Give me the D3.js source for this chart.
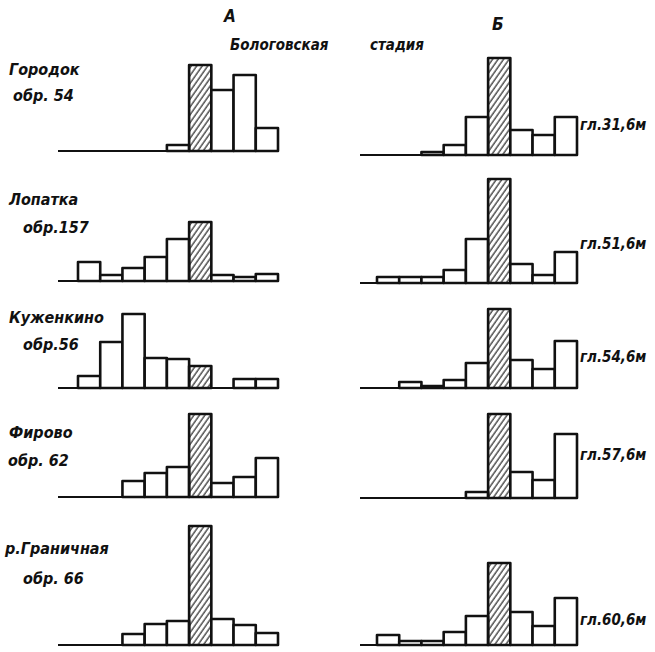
<!DOCTYPE html>
<html>
<head>
<meta charset="utf-8">
<script src="https://cdn.jsdelivr.net/npm/d3@7"></script>
<style>
  body { margin: 0; background: #fff; }
  text { font-family: "DejaVu Sans Condensed", "DejaVu Sans", sans-serif; font-style: italic; font-weight: bold; fill: #111; }
</style>
</head>
<body>
<div id="chart"></div>
<script>
// Bins (9 size classes), index 5 is the hatched one
const bins = [0, 1, 2, 3, 4, 5, 6, 7, 8];
const hatchedBin = 5;

// Column A - surface samples
const namesA = ['Городок', 'Лопатка', 'Куженкино', 'Фирово', 'р.Граничная'];
const samplesA = ['обр. 54', 'обр.157', 'обр.56', 'обр. 62', 'обр. 66'];
const gorodokA = [0, 0, 0, 0, 6, 86, 61, 76, 23];
const lopatkaA = [19, 6, 13, 24, 42, 59, 6, 4, 7];
const kuzhenkinoA = [12, 46, 74, 30, 29, 22, 0, 9, 9];
const firovoA = [0, 0, 16, 24, 30, 83, 14, 20, 39];
const granichnayaA = [0, 0, 11, 21, 24, 119, 26, 20, 12];

// Column Б - borehole depths
const depthsB = ['гл.31,6м', 'гл.51,6м', 'гл.54,6м', 'гл.57,6м', 'гл.60,6м'];
const depth316 = [0, 0, 3, 10, 38, 97, 25, 20, 38];
const depth516 = [6, 6, 6, 13, 44, 104, 19, 8, 31];
const depth546 = [0, 6, 2, 8, 25, 79, 28, 19, 47];
const depth576 = [0, 0, 0, 0, 6, 84, 26, 18, 64];
const depth606 = [10, 4, 4, 13, 29, 82, 33, 19, 47];

const seriesA = [gorodokA, lopatkaA, kuzhenkinoA, firovoA, granichnayaA];
const seriesB = [depth316, depth516, depth546, depth576, depth606];

const width = 655, height = 652;
const svg = d3.select('#chart').append('svg')
  .attr('width', width)
  .attr('height', height);

// hatch pattern
const defs = svg.append('defs');
defs.append('pattern')
  .attr('id', 'hatch')
  .attr('patternUnits', 'userSpaceOnUse')
  .attr('width', 4.5)
  .attr('height', 4.5)
  .attr('patternTransform', 'rotate(35)')
  .append('line')
  .attr('x1', 1).attr('y1', 0)
  .attr('x2', 1).attr('y2', 4.5)
  .attr('stroke', '#111')
  .attr('stroke-width', 1.1);

// layout of the two columns
const colA = { x0: 58, bandStart: 78, bandEnd: 278, baselines: [151, 281, 388, 497, 645] };
const colB = { x0: 360, bandStart: 377, bandEnd: 577, baselines: [155, 283, 388, 498, 645] };

function drawColumn(col, series) {
  const x = d3.scaleBand().domain(bins).range([col.bandStart, col.bandEnd]).padding(0);
  series.forEach((vals, r) => {
    const base = col.baselines[r];
    const y = d3.scaleLinear().domain([0, 100]).range([base, base - 100]);
    const g = svg.append('g');
    // baseline
    g.append('line')
      .attr('x1', col.x0).attr('x2', col.bandEnd)
      .attr('y1', base).attr('y2', base)
      .attr('stroke', '#111')
      .attr('stroke-width', 2.2);
    const data = bins.map(i => ({ i, v: vals[i] })).filter(d => d.v > 0);
    g.selectAll('rect')
      .data(data)
      .join('rect')
      .attr('x', d => x(d.i))
      .attr('y', d => y(d.v))
      .attr('width', x.bandwidth())
      .attr('height', d => y(0) - y(d.v))
      .attr('fill', d => d.i === hatchedBin ? 'url(#hatch)' : '#fff')
      .attr('stroke', '#111')
      .attr('stroke-width', 2.6)
      .attr('stroke-linejoin', 'round');
  });
}

drawColumn(colA, seriesA);
drawColumn(colB, seriesB);

// headers
svg.append('text').attr('x', 224).attr('y', 22).attr('font-size', 17).text('А');
svg.append('text').attr('x', 492).attr('y', 30).attr('font-size', 17).text('Б');
svg.append('text').attr('x', 230).attr('y', 50).attr('font-size', 15).text('Бологовская');
svg.append('text').attr('x', 370).attr('y', 50).attr('font-size', 15).text('стадия');

// left labels
const nameY = [75, 205, 323, 438, 554];
const sampleX = [13, 23, 23, 8, 23];
const sampleY = [101, 233, 350, 466, 584];
namesA.forEach((n, i) => {
  svg.append('text').attr('x', i === 4 ? 5 : 9).attr('y', nameY[i]).attr('font-size', 16).text(n);
  svg.append('text').attr('x', sampleX[i]).attr('y', sampleY[i]).attr('font-size', 16).text(samplesA[i]);
});

// right depth labels
const depthY = [130, 249, 362, 460, 625];
depthsB.forEach((d, i) => {
  svg.append('text').attr('x', 580).attr('y', depthY[i]).attr('font-size', 15).text(d);
});
</script>
</body>
</html>
